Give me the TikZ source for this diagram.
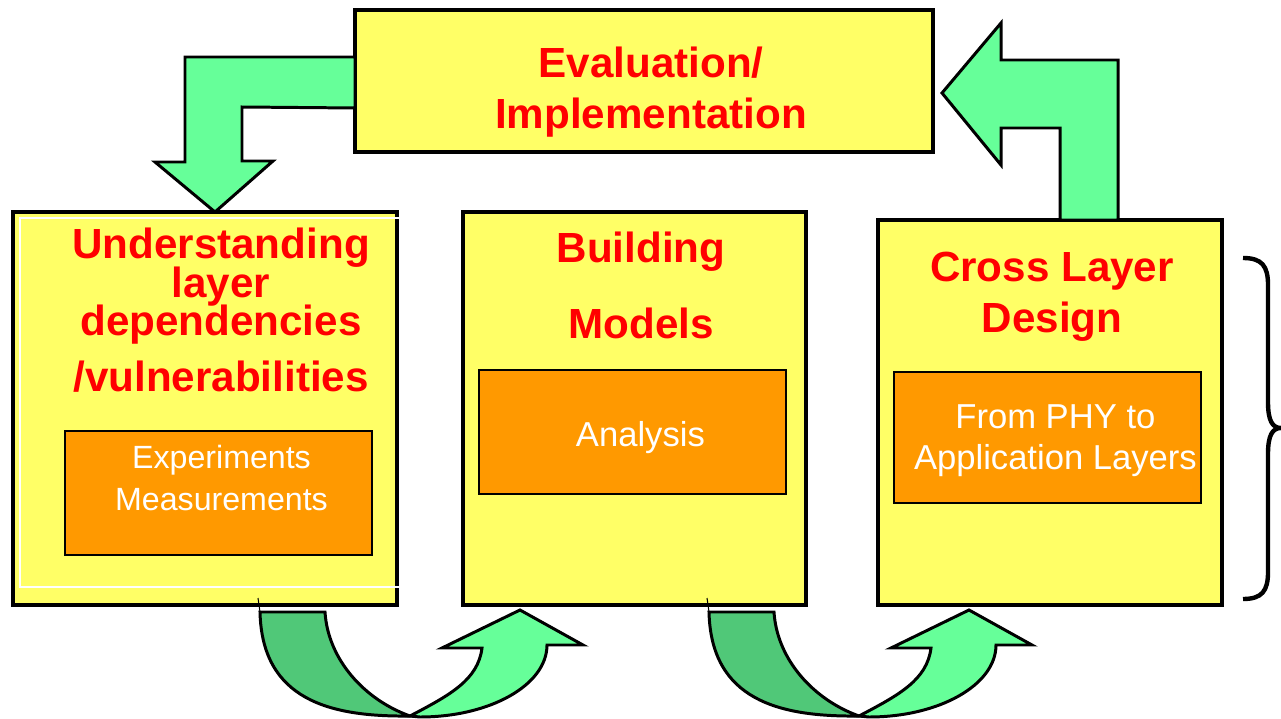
\documentclass[tikz,border=0pt]{standalone}
\usepackage{fontspec}
\setmainfont{Liberation Sans}
\usetikzlibrary{fit}

\definecolor{padyellow}{HTML}{FFFF66}
\definecolor{leafgreen}{HTML}{66FF99}
\definecolor{deepgreen}{HTML}{50C878}
\definecolor{boxorange}{HTML}{FF9900}
\definecolor{titlered}{HTML}{FF0000}

\tikzset{
    stage/.style={draw, line width=2.3pt, fill=padyellow, inner sep=0pt, outer sep=0pt},
    detail/.style={draw, line width=1.1pt, fill=boxorange, inner sep=0pt, outer sep=0pt},
    title/.style={text=titlered, font=\bfseries\fontsize{24}{29}\selectfont, align=center, inner sep=0pt, anchor=north},
    note/.style={text=white, font=\fontsize{19.7}{23.5}\selectfont, align=center, inner sep=0pt},
    blockarrow/.style={draw, line width=1.7pt, fill=leafgreen},
    hopback/.style={draw, line width=1.7pt, fill=deepgreen}
}

\begin{document}
\begin{tikzpicture}[x=0.02cm, y=-0.02cm]
    \useasboundingbox[fill=white] (0,0) rectangle (1281,719);

    % stage boxes
    \node[stage, fit={(355,10) (933,152)}] (eval) {};
    \node[stage, fit={(13,212) (397,605)}] (understand) {};
    \node[stage, fit={(463,212) (806,605)}] (models) {};
    \node[stage, fit={(878,220) (1222,605)}] (cross) {};
    \draw[white, line width=1.1pt] (400,218) -- (20,218) -- (20,587) -- (400,587);

    % orange boxes inside the stages
    \node[detail, fit={(65,431) (372,555)}] (exp) {};
    \node[detail, fit={(479,370) (786,494)}] (analysis) {};
    \node[detail, fit={(894,372) (1201,503)}] (phy) {};

    % stage titles
    \node[title] (evaltitle) at (651,47) {Evaluation/\\Implementation};
    \node[title] (understandtitle) at (221,228) {Understanding\\[-7.3pt]layer\\[-7pt]dependencies\\[2.7pt]/vulnerabilities};
    \node[title] (modelstitle) at (641,232) {Building\\[14pt]Models};
    \node[title] (crosstitle) at (1052,252) {Cross Layer\\Design};

    \node[note, font=\fontsize{18.3}{23.8}\selectfont] (expnote) at ([xshift=1.7pt, yshift=8.5pt]exp.center) {Experiments\\Measurements};
    \node[note] (analysisnote) at ([xshift=4.5pt, yshift=-3.4pt]analysis.center) {Analysis};
    \node[note] (phynote) at ([xshift=4.5pt, yshift=-1.7pt]phy.center) {From PHY to\\Application Layers};

    % L-shaped arrows round the top
    \draw[blockarrow] (eval.west |- 0,57) -- ++(-170,0) -- ++(0,105) -- ++(-30,0)
        -- (understand.north -| 215,0) -- ++(58,-51) -- ++(-31,0) -- ++(0,-54)
        -- (eval.west |- 0,108) -- cycle;
    \draw[blockarrow] (cross.north -| 1118,0) -- ++(0,-160) -- ++(-117,0) -- ++(0,-37)
        -- ++(-59,70) -- ++(59,72) -- ++(0,-37) -- ++(59,0)
        -- (cross.north -| 1060,0) -- cycle;

    % curved hops along the bottom
    \foreach \dx in {0,449} {
        \begin{scope}[shift={(\dx,0)}]
            \draw[line width=0.6pt] (258,598) -- (260,612);
            \draw[hopback] (260,612) -- (325,612) .. controls (328,660) and (365,700) .. (410,716)
                .. controls (330,717) and (262,700) .. (260,612) -- cycle;
            \draw[blockarrow] (410,716) .. controls (450,695) and (478,680) .. (482,648)
                -- (442,648) -- (520,610) -- (583,645) -- (547,645)
                .. controls (547,685) and (490,717) .. (420,717) -- cycle;
        \end{scope}
    }

    % brace on the right
    \draw[line width=2.5pt] (1243,258) .. controls (1262,258) and (1268,266) .. (1268,285)
        -- (1268,402) .. controls (1268,420) and (1272,428) .. (1281,428)
        .. controls (1272,428) and (1268,436) .. (1268,454)
        -- (1268,572) .. controls (1268,591) and (1262,599) .. (1243,599);
\end{tikzpicture}
\end{document}
